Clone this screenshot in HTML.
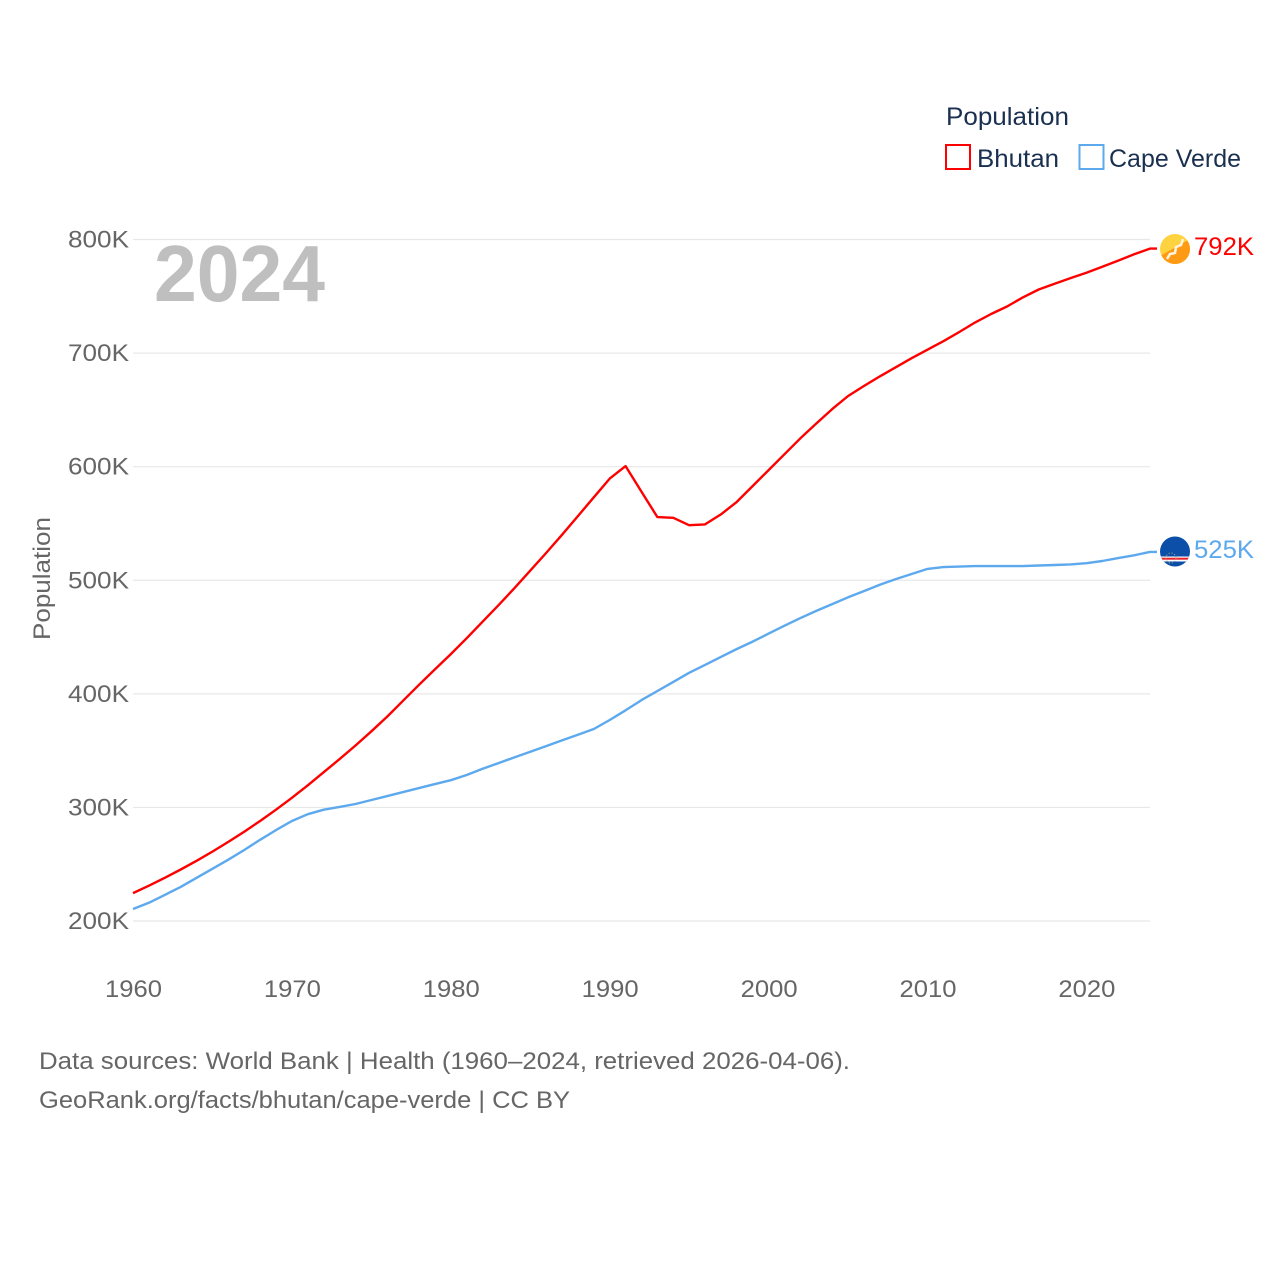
<!DOCTYPE html>
<html>
<head>
<meta charset="utf-8">
<title>Population: Bhutan and Cape Verde</title>
<style>
html,body{margin:0;padding:0;background:#fff;width:1280px;height:1280px;overflow:hidden}
svg{display:block}
text{font-family:"Liberation Sans",sans-serif}
.tick{font-size:24px;fill:#666}
.note{font-size:24px;fill:#666}
.leg{font-size:25px;fill:#1a3050}
</style>
</head>
<body>
<svg id="chart" width="1280" height="1280" viewBox="0 0 1280 1280" xmlns="http://www.w3.org/2000/svg">
  <g id="grid"></g>
  <g id="ylabels"></g>
  <g id="xlabels"></g>
  <text x="154" y="301" font-size="80" font-weight="bold" fill="#bfbfbf" textLength="171" lengthAdjust="spacingAndGlyphs">2024</text>
  <text class="tick" transform="translate(50,640) rotate(-90)" textLength="123" lengthAdjust="spacingAndGlyphs">Population</text>
  <g id="series"></g>

  <g>
    <text class="leg" x="946" y="125" textLength="123" lengthAdjust="spacingAndGlyphs">Population</text>
    <g>
      <rect x="946" y="145" width="24" height="24" fill="#fff" stroke="#ff0000" stroke-width="2"/>
      <text class="leg" x="977" y="167" textLength="82" lengthAdjust="spacingAndGlyphs">Bhutan</text>
    </g>
    <g>
      <rect x="1079.500" y="145" width="24" height="24" fill="#fff" stroke="#5da9ee" stroke-width="2"/>
      <text class="leg" x="1109" y="167" textLength="132" lengthAdjust="spacingAndGlyphs">Cape Verde</text>
    </g>
  </g>

  <defs>
    <clipPath id="clipB"><circle cx="1175" cy="249" r="15"/></clipPath>
    <clipPath id="clipC"><circle cx="1175" cy="551.500" r="15"/></clipPath>
  </defs>
  <g clip-path="url(#clipB)">
    <rect x="1160" y="234" width="30" height="30" fill="#ffd23f"/>
    <polygon points="1190,239 1190,264 1160,264 1160,256" fill="#ff9a14"/>
    <path d="M1167,259 L1170,254 L1175,253 L1176,247 L1181,245 L1183,239" fill="none" stroke="#fff4e0" stroke-width="2.500"/>
  </g>
  <g clip-path="url(#clipC)">
    <rect x="1160" y="536" width="30" height="31" fill="#0b4fa8"/>
    <rect x="1160" y="556.500" width="30" height="5" fill="#fff"/>
    <rect x="1160" y="557.700" width="30" height="2" fill="#e8212b"/>
    <circle cx="1171" cy="558" r="5" fill="none" stroke="#b8b070" stroke-width="1" stroke-dasharray="1 2"/>
  </g>
  <text id="endB" x="1194" y="255" font-size="25" fill="#ff0000" textLength="60" lengthAdjust="spacingAndGlyphs">792K</text>
  <text id="endC" x="1194" y="558" font-size="25" fill="#5da9ee" textLength="60" lengthAdjust="spacingAndGlyphs">525K</text>

  <text class="note" x="39" y="1069" textLength="811" lengthAdjust="spacingAndGlyphs">Data sources: World Bank | Health (1960–2024, retrieved 2026-04-06).</text>
  <text class="note" x="39" y="1108" textLength="531" lengthAdjust="spacingAndGlyphs">GeoRank.org/facts/bhutan/cape-verde | CC BY</text>
</svg>
<script>
const startYear = 1960;
const xTicks = [1960, 1970, 1980, 1990, 2000, 2010, 2020];
const yTicks = [200, 300, 400, 500, 600, 700, 800];
const bhutan = [224.6,231.1,238,245.3,253,261.1,269.6,278.6,288,298,308.5,319.5,331,342.5,354.5,367,380,394,408,421.5,435,449,463.5,478,493,508.5,524,540,556.5,573,589.5,600.5,578,555.6,555,548.5,549.2,558,569,583,597,611,625,638,650.7,662.2,671,679.5,687.5,695.5,703,710.5,718.6,727,734.4,741,749,756,761,766,770.8,776,781.4,787,792];
const capeVerde = [210.6,216,223,230,238,246,254,262.5,271.5,280,288,294,298,300.5,303,306.5,310,313.5,317,320.5,324,328.5,334,339,344,349,354,359,364,369,377,385.5,394.5,402.5,410.5,418.5,425.5,432.5,439.5,446,453,460,466.7,473,479,485,490.5,496,501,505.5,510,511.6,512,512.5,512.5,512.5,512.5,513,513.4,514,515,517,519.5,522,525];

const NS = 'http://www.w3.org/2000/svg';
const xScale = y => 133 + (y - 1960) * 15.89;
const yScale = v => 921 - (v - 200) * 1.1358;

const grid = document.getElementById('grid');
const ylabels = document.getElementById('ylabels');
const xlabels = document.getElementById('xlabels');

yTicks.forEach(t => {
  const line = document.createElementNS(NS, 'line');
  
  
  line.setAttribute('x1', 133);
  line.setAttribute('x2', 1150);
  line.setAttribute('y1', yScale(t));
  line.setAttribute('y2', yScale(t));
  line.setAttribute('stroke', '#e8e8e8');
  line.setAttribute('stroke-width', 1.2);
  grid.appendChild(line);

  const label = document.createElementNS(NS, 'text');
  
  
  label.setAttribute('class', 'tick');
  label.setAttribute('x', 68);
  label.setAttribute('y', yScale(t) + 8);
  label.setAttribute('textLength', 61);
  label.setAttribute('lengthAdjust', 'spacingAndGlyphs');
  label.textContent = t + 'K';
  ylabels.appendChild(label);
});

xTicks.forEach(t => {
  const label = document.createElementNS(NS, 'text');
  
  
  label.setAttribute('class', 'tick');
  label.setAttribute('x', xScale(t) - 28);
  label.setAttribute('y', 997);
  label.setAttribute('textLength', 57);
  label.setAttribute('lengthAdjust', 'spacingAndGlyphs');
  label.textContent = t;
  xlabels.appendChild(label);
});

const seriesGroup = document.getElementById('series');
function drawSeries(values, color, name) {
  const pts = values.map((v, i) => xScale(startYear + i).toFixed(1) + ',' + yScale(v).toFixed(1));
  const last = values[values.length - 1];
  pts.push('1157,' + yScale(last).toFixed(1));
  const path = document.createElementNS(NS, 'polyline');
  
  
  path.setAttribute('points', pts.join(' '));
  path.setAttribute('fill', 'none');
  path.setAttribute('stroke', color);
  path.setAttribute('stroke-width', 2.4);
  path.setAttribute('stroke-linejoin', 'round');
  seriesGroup.appendChild(path);
}
drawSeries(bhutan, '#ff0000', 'bhutan-line');
drawSeries(capeVerde, '#5da9ee', 'cape-verde-line');
</script>
</body>
</html>
